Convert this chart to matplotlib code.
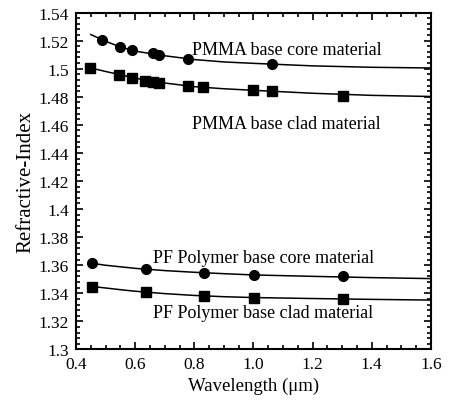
import matplotlib
matplotlib.use('Agg')
import matplotlib.pyplot as plt
import numpy as np
from matplotlib.ticker import MultipleLocator, FuncFormatter

plt.rcParams['font.family'] = ['Liberation Serif', 'DejaVu Serif']

# measured points (wavelength in um, refractive index)
pmma_core_wl = [0.487, 0.55, 0.589, 0.661, 0.681, 0.78, 1.061]
pmma_core_n = [1.5202, 1.5155, 1.513, 1.511, 1.510, 1.507, 1.5036]
pmma_clad_wl = [0.447, 0.546, 0.589, 0.634, 0.66, 0.682, 0.78, 0.83, 1.0, 1.061, 1.304]
pmma_clad_n = [1.5005, 1.4957, 1.4933, 1.491, 1.4905, 1.4898, 1.4876, 1.4866, 1.4845, 1.4843, 1.4805]
pf_core_wl = [0.453, 0.637, 0.832, 1.003, 1.304]
pf_core_n = [1.3614, 1.3571, 1.3548, 1.3529, 1.352]
pf_clad_wl = [0.453, 0.637, 0.832, 1.003, 1.304]
pf_clad_n = [1.3448, 1.341, 1.338, 1.337, 1.3362]

# fitted curves
fit_wl = [0.45, 0.5, 0.55, 0.6, 0.7, 0.8, 0.9, 1.0, 1.2, 1.4, 1.6]
pmma_core_fit = [1.5243, 1.5195, 1.5155, 1.5125, 1.5092, 1.5065, 1.5048, 1.5038, 1.502, 1.501, 1.5005]
pmma_clad_fit = [1.5005, 1.4980, 1.4957, 1.4932, 1.4898, 1.4872, 1.4857, 1.4846, 1.4825, 1.4810, 1.4802]
pf_core_fit = [1.3615, 1.3600, 1.3589, 1.3578, 1.3562, 1.3550, 1.3540, 1.3531, 1.3521, 1.3512, 1.3505]
pf_clad_fit = [1.3450, 1.3438, 1.3426, 1.3415, 1.3398, 1.3385, 1.3376, 1.3370, 1.3363, 1.3357, 1.3352]

fig = plt.figure(figsize=(4.56, 4.06), dpi=100)
ax = fig.add_axes([0.1667, 0.1367, 0.7783, 0.83])

for fit in [pmma_core_fit, pmma_clad_fit, pf_core_fit, pf_clad_fit]:
    ax.plot(fit_wl, fit, color='black', lw=1.1)

ax.plot(pmma_core_wl, pmma_core_n, 'o', color='black', ms=7)
ax.plot(pmma_clad_wl, pmma_clad_n, 's', color='black', ms=6.5)
ax.plot(pf_core_wl, pf_core_n, 'o', color='black', ms=7)
ax.plot(pf_clad_wl, pf_clad_n, 's', color='black', ms=6.5)

ax.text(0.793, 1.5136, 'PMMA base core material', fontsize=13, va='center')
ax.text(0.793, 1.4607, 'PMMA base clad material', fontsize=13, va='center')
ax.text(0.661, 1.3657, 'PF Polymer base core material', fontsize=13, va='center')
ax.text(0.661, 1.3264, 'PF Polymer base clad material', fontsize=13, va='center')

ax.set_xlim(0.4, 1.6)
ax.set_ylim(1.3, 1.54)
ax.xaxis.set_major_locator(MultipleLocator(0.2))
ax.xaxis.set_minor_locator(MultipleLocator(0.05))
ax.yaxis.set_major_locator(MultipleLocator(0.02))
ax.yaxis.set_minor_locator(MultipleLocator(0.004))
ax.xaxis.set_major_formatter(FuncFormatter(lambda v, p: '%.1f' % v))
ax.yaxis.set_major_formatter(FuncFormatter(lambda v, p: '%g' % round(v, 2)))
ax.tick_params(which='both', direction='in', top=True, right=True, labelsize=12.5, width=1.2)
ax.tick_params(which='major', length=5, pad=5)
ax.tick_params(which='minor', length=3)
for s in ax.spines.values():
    s.set_linewidth(1.5)

ax.set_xlabel('Wavelength (\u03bcm)', fontsize=13.5, labelpad=3)
ax.set_ylabel('Refractive-Index', fontsize=15, labelpad=2)

fig.savefig('out.png', dpi=100)
